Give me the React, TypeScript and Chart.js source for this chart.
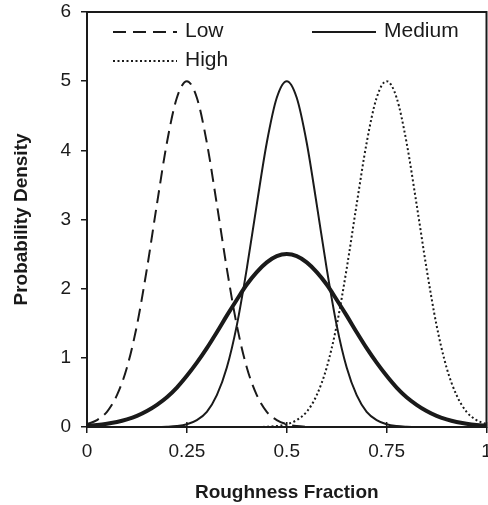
import { useEffect, useRef } from 'react';
import { Chart, registerables } from 'chart.js';

Chart.register(...registerables);

const xValues = [0, 0.025, 0.05, 0.075, 0.1, 0.125, 0.15, 0.175, 0.2, 0.225, 0.25, 0.275, 0.3, 0.325, 0.35, 0.375, 0.4, 0.425, 0.45, 0.475, 0.5, 0.525, 0.55, 0.575, 0.6, 0.625, 0.65, 0.675, 0.7, 0.725, 0.75, 0.775, 0.8, 0.825, 0.85, 0.875, 0.9, 0.925, 0.95, 0.975, 1];

const lowValues = [0.04, 0.10, 0.22, 0.46, 0.86, 1.47, 2.29, 3.22, 4.11, 4.76, 5.0, 4.76, 4.11, 3.22, 2.29, 1.47, 0.86, 0.46, 0.22, 0.10, 0.04, 0.014, 0.004, 0, 0, 0, 0, 0, 0, 0, 0, 0, 0, 0, 0, 0, 0, 0, 0, 0, 0];

const mediumValues = [0, 0, 0, 0, 0, 0, 0, 0, 0.004, 0.014, 0.04, 0.10, 0.22, 0.46, 0.86, 1.47, 2.29, 3.22, 4.11, 4.76, 5.0, 4.76, 4.11, 3.22, 2.29, 1.47, 0.86, 0.46, 0.22, 0.10, 0.04, 0.014, 0.004, 0, 0, 0, 0, 0, 0, 0, 0];

const highValues = [0, 0, 0, 0, 0, 0, 0, 0, 0, 0, 0, 0, 0, 0, 0, 0, 0, 0, 0.004, 0.014, 0.04, 0.10, 0.22, 0.46, 0.86, 1.47, 2.29, 3.22, 4.11, 4.76, 5.0, 4.76, 4.11, 3.22, 2.29, 1.47, 0.86, 0.46, 0.22, 0.10, 0.04];

const wideValues = [0.019, 0.03, 0.048, 0.073, 0.11, 0.16, 0.23, 0.32, 0.43, 0.57, 0.74, 0.93, 1.14, 1.37, 1.61, 1.84, 2.06, 2.24, 2.38, 2.47, 2.5, 2.47, 2.38, 2.24, 2.06, 1.84, 1.61, 1.37, 1.14, 0.93, 0.74, 0.57, 0.43, 0.32, 0.23, 0.16, 0.11, 0.073, 0.048, 0.03, 0.019];

const xTicks = [0, 0.25, 0.5, 0.75, 1];
const yTicks = [0, 1, 2, 3, 4, 5, 6];
const legendLabels = ['Low', 'Medium', 'High'];
const xTitle = 'Roughness Fraction';
const yTitle = 'Probability Density';

const INK = '#1a1a1a';
const FONT = "'Liberation Sans', Arial, Helvetica, sans-serif";

const toPoints = (ys: number[]) => ys.map((y, i) => ({ x: xValues[i], y }));

const framePlugin = {
  id: 'frameAndLegend',
  afterDatasetsDraw(chart: any) {
    const { ctx, chartArea: a, scales } = chart;
    ctx.save();
    ctx.strokeStyle = INK;
    ctx.lineWidth = 2;
    ctx.setLineDash([]);
    ctx.strokeRect(a.left, a.top, a.right - a.left, a.bottom - a.top);
    ctx.lineWidth = 1.5;
    xTicks.forEach((v) => {
      const px = scales.x.getPixelForValue(v);
      ctx.beginPath();
      ctx.moveTo(px, a.bottom);
      ctx.lineTo(px, a.bottom - 5);
      ctx.stroke();
    });
    const items = [
      { label: legendLabels[0], dash: [13, 7], width: 2, x: a.left + 26, y: a.top + 20 },
      { label: legendLabels[1], dash: [], width: 2, x: a.left + 225, y: a.top + 20 },
      { label: legendLabels[2], dash: [2, 2.5], width: 2, x: a.left + 26, y: a.top + 49 },
    ];
    ctx.font = `21px ${FONT}`;
    ctx.fillStyle = INK;
    ctx.textBaseline = 'middle';
    ctx.textAlign = 'left';
    items.forEach((it) => {
      ctx.lineWidth = it.width;
      ctx.setLineDash(it.dash);
      ctx.beginPath();
      ctx.moveTo(it.x, it.y);
      ctx.lineTo(it.x + 64, it.y);
      ctx.stroke();
      ctx.setLineDash([]);
      ctx.fillText(it.label, it.x + 72, it.y - 1);
    });
    ctx.restore();
  },
};

export default function App() {
  const ref = useRef<HTMLCanvasElement | null>(null);

  useEffect(() => {
    if (!ref.current) return;
    const line = (data: number[], width: number, dash: number[]) => ({
      data: toPoints(data),
      borderColor: INK,
      borderWidth: width,
      borderDash: dash,
      pointRadius: 0,
      fill: false,
      cubicInterpolationMode: 'monotone' as const,
    });
    const chart = new Chart(ref.current, {
      type: 'line',
      data: {
        datasets: [
          { label: legendLabels[0], ...line(lowValues, 2, [13, 7]) },
          { label: legendLabels[1], ...line(mediumValues, 2, []) },
          { label: legendLabels[2], ...line(highValues, 2, [2, 2.5]) },
          { label: '', ...line(wideValues, 4, []) },
        ],
      },
      options: {
        responsive: false,
        animation: false,
        layout: { padding: { top: 12, right: 1.5, left: 0, bottom: 0 } },
        plugins: { legend: { display: false }, tooltip: { enabled: false } },
        scales: {
          x: {
            type: 'linear',
            min: 0,
            max: 1,
            afterBuildTicks: (s: any) => { s.ticks = xTicks.map((v) => ({ value: v })); },
            afterFit: (s: any) => { s.height = 78; s.paddingLeft = 0; s.paddingRight = 0; s.paddingTop = 0; s.paddingBottom = 0; },
            border: { display: false },
            grid: { drawOnChartArea: false, tickLength: 6, color: INK, lineWidth: 1.5 },
            ticks: { color: INK, font: { family: FONT, size: 19 }, padding: 7, maxRotation: 0, callback: (v: any) => String(v) },
            title: { display: true, text: xTitle, color: INK, font: { family: FONT, size: 19, weight: 'bold' }, padding: { top: 0, bottom: 1 } },
          },
          y: {
            type: 'linear',
            min: 0,
            max: 6,
            afterBuildTicks: (s: any) => { s.ticks = yTicks.map((v) => ({ value: v })); },
            afterFit: (s: any) => { s.width = 87; s.paddingTop = 0; s.paddingBottom = 0; s.paddingLeft = 0; s.paddingRight = 0; },
            border: { display: false },
            grid: { drawOnChartArea: false, tickLength: 6, color: INK, lineWidth: 1.5 },
            ticks: { color: INK, font: { family: FONT, size: 19 }, padding: 10, callback: (v: any) => String(v) },
            title: { display: true, text: yTitle, color: INK, font: { family: FONT, size: 19, weight: 'bold' }, padding: { top: 10, bottom: 0 } },
          },
        },
      },
      plugins: [framePlugin],
    } as any);
    return () => chart.destroy();
  }, []);

  return (
    <div style={{ position: 'absolute', left: 0, top: 0, width: 488, height: 505, background: '#fff' }}>
      <canvas ref={ref} width={488} height={505} style={{ display: 'block' }} />
    </div>
  );
}
